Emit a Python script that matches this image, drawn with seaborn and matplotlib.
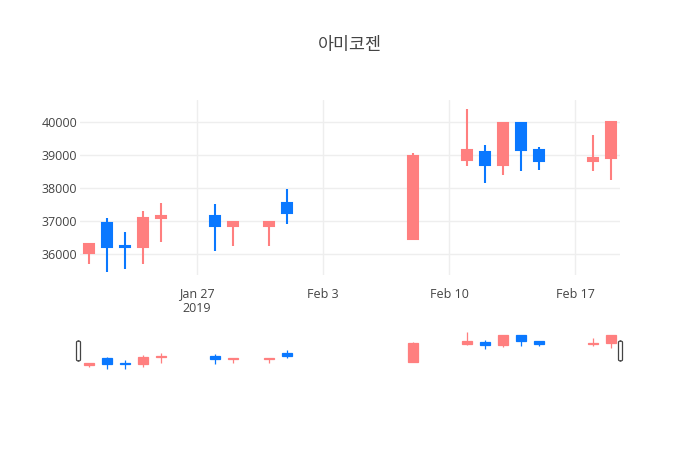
import matplotlib
matplotlib.use("Agg")
import matplotlib.pyplot as plt
import matplotlib.dates as mdates
from matplotlib.patches import FancyBboxPatch
import pandas as pd
import seaborn as sns

# daily OHLC
dates = ["2019-01-21", "2019-01-22", "2019-01-23", "2019-01-24", "2019-01-25",
         "2019-01-28", "2019-01-29", "2019-01-31", "2019-02-01",
         "2019-02-08", "2019-02-11", "2019-02-12", "2019-02-13", "2019-02-14",
         "2019-02-15", "2019-02-18", "2019-02-19"]
opens = [36030, 36950, 36250, 36200, 37080, 37150, 36850, 36850, 37550,
         36450, 38850, 39100, 38700, 39950, 39150, 38800, 38900]
highs = [36330, 37100, 36650, 37300, 37550, 37500, 36980, 36980, 37950,
         39050, 40400, 39300, 39950, 39950, 39250, 39600, 40000]
lows = [35700, 35450, 35550, 35700, 36350, 36100, 36250, 36250, 36900,
        36450, 38650, 38150, 38400, 38500, 38550, 38500, 38250]
closes = [36300, 36200, 36200, 37100, 37150, 36850, 36960, 36960, 37250,
          38950, 39150, 38700, 39950, 39150, 38800, 38900, 40000]

title = "아미코젠"
tick_dates = ["2019-01-27", "2019-02-03", "2019-02-10", "2019-02-17"]
tick_labels = ["Jan 27\n2019", "Feb 3", "Feb 10", "Feb 17"]
y_ticks = [36000, 37000, 38000, 39000, 40000]

UP = "#ff7f7f"
DOWN = "#0a78ff"

df = pd.DataFrame({"date": pd.to_datetime(dates), "open": opens, "high": highs,
                   "low": lows, "close": closes})
df["x"] = mdates.date2num(df["date"])
df["color"] = [UP if c > o else DOWN for o, c in zip(df["open"], df["close"])]

sns.set_theme(style="white")
plt.rcParams["font.family"] = ["Open Sans", "Noto Sans CJK KR", "DejaVu Sans"]

W, H = 700, 450
fig = plt.figure(figsize=(7, 4.5), dpi=100)


def px_axes(left, top, right, bottom):
    return fig.add_axes([left / W, 1 - bottom / H, (right - left) / W, (bottom - top) / H])


def draw_candles(ax, wick_lw, body_lw):
    ax.vlines(df["x"], df["low"], df["high"], colors=df["color"], linewidth=wick_lw, zorder=2)
    ax.bar(df["x"], df["close"] - df["open"], bottom=df["open"], width=0.55,
           color=df["color"], edgecolor=df["color"], linewidth=body_lw, zorder=3)


ylim = (35360, 40660)
xlim = (df["x"].min() - 0.5, df["x"].max() + 0.5)

# main chart
ax = px_axes(80, 100, 620, 275)
draw_candles(ax, 1.5, 1.5)
ax.set_xlim(xlim)
ax.set_ylim(ylim)
ax.set_yticks(y_ticks)
ax.set_yticklabels([str(v) for v in y_ticks])
ax.set_xticks(mdates.date2num(pd.to_datetime(tick_dates)))
ax.set_xticklabels(tick_labels)
ax.grid(True, color="#eeeeee", linewidth=1)
ax.set_axisbelow(True)
for s in ax.spines.values():
    s.set_visible(False)
ax.tick_params(axis="both", length=0, labelsize=9, colors="#444444")
ax.tick_params(axis="y", pad=2)
ax.tick_params(axis="x", pad=9)
for lab in ax.get_xticklabels():
    lab.set_linespacing(1.15)

# range slider
ax2 = px_axes(80, 330, 620, 370)
draw_candles(ax2, 0.9, 0.9)
ax2.set_xlim(xlim)
ax2.set_ylim(ylim)
ax2.set_xticks([])
ax2.set_yticks([])
for s in ax2.spines.values():
    s.set_visible(False)

for hx in (78.5, 620.5):
    fig.patches.append(FancyBboxPatch(((hx - 2) / W, 1 - 361 / H), 4 / W, 20 / H,
                                      boxstyle="round,pad=0,rounding_size=0.003",
                                      transform=fig.transFigure, facecolor="white",
                                      edgecolor="#444444", linewidth=0.9, zorder=5))

fig.text(0.5, 1 - 45 / H, title, ha="center", va="center", fontsize=12.5, color="#444444",
         family=["Noto Sans CJK KR", "DejaVu Sans"])

fig.savefig("out.png", dpi=100, facecolor="white")
